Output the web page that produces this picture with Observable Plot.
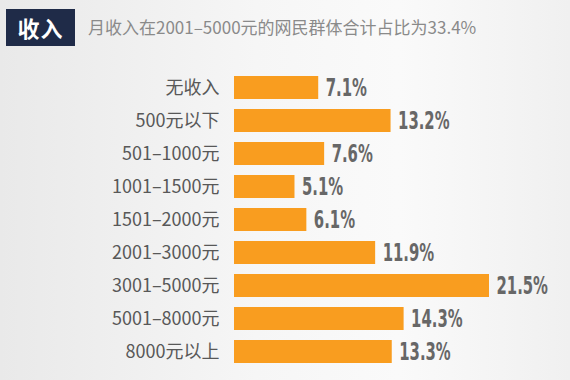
<!DOCTYPE html>
<html><head><meta charset="utf-8">
<script src="https://cdn.jsdelivr.net/npm/d3@7"></script>
<script src="https://cdn.jsdelivr.net/npm/@observablehq/plot@0.6"></script>
<style>
html,body{margin:0;padding:0;}
body{width:570px;height:380px;overflow:hidden;background:linear-gradient(to right,#e9e9e9 0%,#f6f6f6 45%,#fafafa 70%,#f0f0f0 100%);font-family:"Noto Sans CJK SC",sans-serif;position:relative;}
#hdr{position:absolute;left:0;top:0;width:570px;height:56px;}
#tag{position:absolute;left:6px;top:9px;width:69px;height:37px;background:#1f2b48;color:#fff;font-weight:bold;font-size:22px;line-height:37px;text-align:center;letter-spacing:1px;}
#sub{position:absolute;left:88px;top:16px;font-size:17px;color:#8a8a8a;line-height:22px;}
#chart{position:absolute;left:0;top:58px;}
</style></head><body>
<div id="hdr"><div id="tag">收入</div><div id="sub">月收入在2001–5000元的网民群体合计占比为33.4%</div></div>
<div id="chart"></div>
<script>
const categories = ["无收入","500元以下","501–1000元","1001–1500元","1501–2000元","2001–3000元","3001–5000元","5001–8000元","8000元以上"];
const values = [7.1,13.2,7.6,5.1,6.1,11.9,21.5,14.3,13.3];
const valueLabels = ["7.1%","13.2%","7.6%","5.1%","6.1%","11.9%","21.5%","14.3%","13.3%"];
const data = categories.map((c,i)=>({c, v: values[i], l: valueLabels[i]}));
const chart = Plot.plot({
  width: 570, height: 320,
  marginLeft: 234, marginRight: 81, marginTop: 4, marginBottom: 0,
  style: {background: "transparent", fontFamily: "'Noto Sans CJK SC', sans-serif"},
  x: {domain: [0, 21.5], axis: null},
  y: {domain: categories, padding: 0.3, axis: null},
  marks: [
    Plot.barX(data, {x: "v", y: "c", fill: "#f99d1f"}),
    Plot.text(data, {x: 0, y: "c", text: "c", textAnchor: "end", dx: -15, fontSize: 18, fill: "#585858"}),
    Plot.text(data, {x: "v", y: "c", text: "l", textAnchor: "start", dx: 7, dy: 0, fontSize: 25, fontWeight: "bold", fill: "#676767", className: "val", fontFamily: "'DejaVu Sans Condensed','DejaVu Sans',sans-serif"})
  ]
});
document.getElementById("chart").appendChild(chart);
// condense the value labels horizontally, like the narrow display face of the reference
chart.querySelectorAll(".val text").forEach(t => {
  const tr = t.getAttribute("transform");
  if (tr) {
    t.setAttribute("transform", tr + " scale(0.66,1)");
  } else {
    const x = +t.getAttribute("x") || 0, y = +t.getAttribute("y") || 0;
    t.removeAttribute("x"); t.removeAttribute("y");
    t.setAttribute("transform", `translate(${x},${y}) scale(0.66,1)`);
  }
});
</script>
</body></html>
